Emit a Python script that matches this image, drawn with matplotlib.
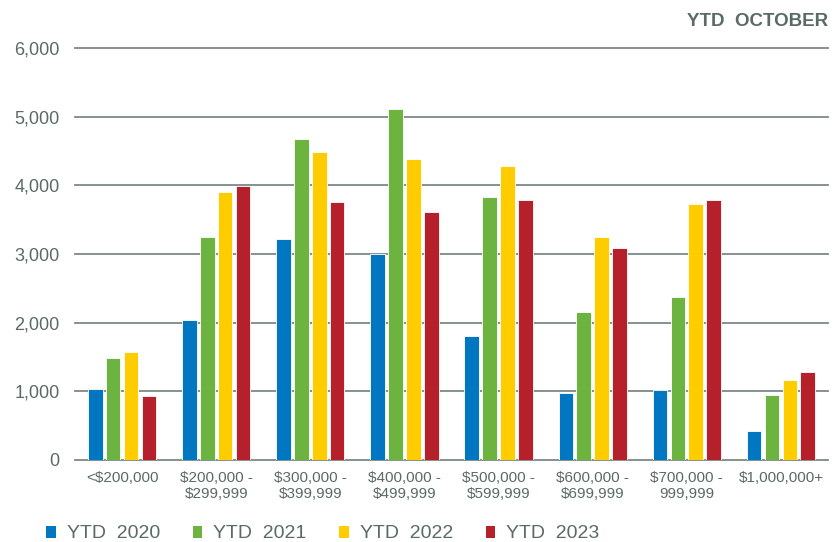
import matplotlib
matplotlib.use("Agg")
import matplotlib.pyplot as plt
import numpy as np
from matplotlib.patches import Patch

categories = ["<$200,000", "$200,000 -\n$299,999", "$300,000 -\n$399,999", "$400,000 -\n$499,999",
              "$500,000 -\n$599,999", "$600,000 -\n$699,999", "$700,000 -\n999,999", "$1,000,000+"]
series_names = ["YTD  2020", "YTD  2021", "YTD  2022", "YTD  2023"]
ytd_2020 = [1033, 2038, 3217, 3000, 1805, 975, 1019, 422]
ytd_2021 = [1485, 3246, 4672, 5110, 3828, 2154, 2373, 946]
ytd_2022 = [1572, 3900, 4483, 4381, 4280, 3246, 3726, 1164]
ytd_2023 = [932, 3990, 3755, 3610, 3785, 3086, 3785, 1281]
series = [ytd_2020, ytd_2021, ytd_2022, ytd_2023]
colors = ["#0077C0", "#6DB33F", "#FFCC00", "#B5202A"]
yticks = [0, 1000, 2000, 3000, 4000, 5000, 6000]

text_color = "#5A6B63"
plt.rcParams['font.family'] = ['Liberation Sans', 'DejaVu Sans']

fig = plt.figure(figsize=(8.4, 5.42), dpi=100)
ax = fig.add_axes([75/840, 1-460/542, 753/840, (460-48)/542])

x = np.arange(len(categories))
step = 0.19
width = 0.155
for i, (vals, c) in enumerate(zip(series, colors)):
    ax.bar(x + (i-1.5)*step, vals, width=width, color=c, edgecolor="white", linewidth=0.6, zorder=3)

ax.set_xlim(-0.5, len(categories)-0.5)
ax.set_ylim(0, 6000)
ax.set_yticks(yticks)
ax.set_yticklabels([f"{v:,}" for v in yticks], fontsize=13, color=text_color)
ax.set_xticks(x)
ax.set_xticklabels(categories, fontsize=11, color=text_color)
ax.tick_params(axis='y', length=0, pad=11)
ax.tick_params(axis='x', length=0, pad=8)
for s in ax.spines.values():
    s.set_visible(False)
for v in yticks:
    ax.axhline(v, color="#7d8884", linewidth=1.3, zorder=1, clip_on=False)

fig.text(828/840, 1-21/542, "YTD  OCTOBER", ha="right", va="center", fontsize=13.5,
         fontweight="bold", color=text_color)

handles = [Patch(facecolor=c, edgecolor="none") for c in colors]
leg = fig.legend(handles, series_names, loc="center left", bbox_to_anchor=(46/840, 1-534/542),
                 ncol=4, frameon=False, fontsize=14, handlelength=0.5, handleheight=0.57,
                 handletextpad=0.57, columnspacing=1.67, borderaxespad=0, borderpad=0)
for t in leg.get_texts():
    t.set_color(text_color)

fig.savefig("out.png", dpi=100)
